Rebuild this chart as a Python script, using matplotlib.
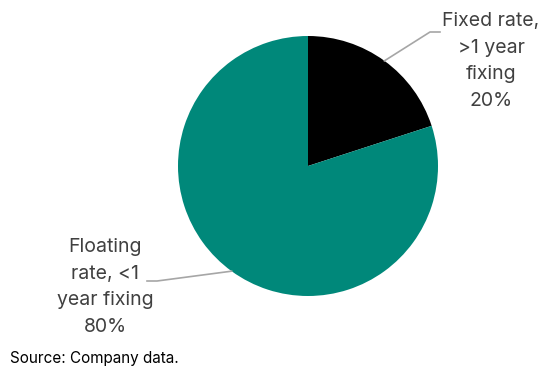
import numpy as np
import matplotlib.pyplot as plt

# Loan book split by interest rate fixing
labels = ["Fixed rate,\n>1 year\nfixing\n20%", "Floating\nrate, <1\nyear fixing\n80%"]
shares = [20, 80]
colors = ["#000000", "#00887A"]

plt.rcParams['font.family'] = ['Inter', 'DejaVu Sans']

W, H = 547, 372
fig = plt.figure(figsize=(W / 100, H / 100), dpi=100)
ax = fig.add_axes([178 / W, 76 / H, 260 / W, 260 / H])

wedges, _ = ax.pie(shares, colors=colors, startangle=90, counterclock=False,
                   wedgeprops=dict(linewidth=0))
ax.set_xlim(-1, 1)
ax.set_ylim(-1, 1)
ax.set_aspect('equal')

text_color = "#404040"
line_color = "#A6A6A6"

# label anchor (end of leader), text centre, in figure pixels
label_pos = [((440, 340), (491, 311)), ((147, 91), (105, 85))]

for w, lab, ((lx, ly), (tx, ty)) in zip(wedges, labels, label_pos):
    mid = np.deg2rad((w.theta1 + w.theta2) / 2)
    px, py = ax.transData.transform((np.cos(mid), np.sin(mid)))
    if lx > px:
        elbow = (lx - 10, ly)
    else:
        elbow = (lx + 10, ly)
    xs = np.array([px, elbow[0], lx]) / W
    ys = np.array([py, elbow[1], ly]) / H
    fig.add_artist(plt.Line2D(xs, ys, color=line_color, lw=1.2,
                              transform=fig.transFigure))
    fig.text(tx / W, ty / H, lab, ha='center', va='center', fontsize=14,
             color=text_color, linespacing=1.62)

fig.text(10 / W, 14 / H, "Source: Company data.", ha='left', va='center',
         fontsize=11, color="#000000")

plt.savefig("out.png", dpi=100)
